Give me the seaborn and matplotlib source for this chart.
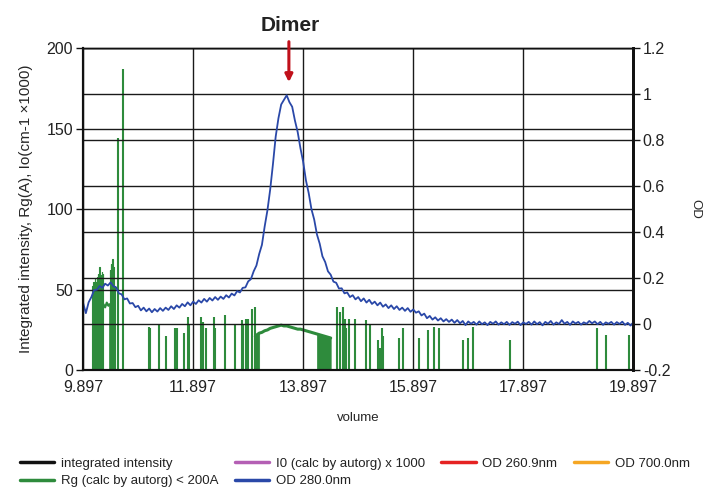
import numpy as np
import pandas as pd
import matplotlib
matplotlib.use("Agg")
import matplotlib.pyplot as plt
import seaborn as sns
from matplotlib.lines import Line2D

#%% data

# OD 280.0nm trace, sampled every 0.05 volume units from 9.90 to 19.90
od_start, od_stop = 9.90, 19.90
od280 = [0.092, 0.048, 0.095, 0.118, 0.148, 0.150, 0.166, 0.158, 0.176, 0.168,
         0.182, 0.165, 0.160, 0.134, 0.130, 0.108, 0.112, 0.090, 0.092, 0.074,
         0.080, 0.060, 0.072, 0.056, 0.068, 0.052, 0.066, 0.055, 0.070, 0.058,
         0.072, 0.062, 0.078, 0.066, 0.082, 0.072, 0.088, 0.078, 0.095, 0.082,
         0.098, 0.088, 0.104, 0.094, 0.110, 0.098, 0.114, 0.103, 0.118, 0.106,
         0.120, 0.110, 0.126, 0.116, 0.133, 0.125, 0.144, 0.138, 0.158, 0.160,
         0.186, 0.196, 0.230, 0.255, 0.305, 0.345, 0.425, 0.495, 0.585, 0.695,
         0.815, 0.895, 0.955, 0.975, 0.995, 0.965, 0.945, 0.885, 0.835, 0.765,
         0.705, 0.625, 0.570, 0.500, 0.455, 0.390, 0.350, 0.295, 0.270, 0.230,
         0.215, 0.185, 0.180, 0.155, 0.156, 0.134, 0.138, 0.118, 0.126, 0.108,
         0.118, 0.100, 0.112, 0.094, 0.106, 0.088, 0.098, 0.082, 0.094, 0.076,
         0.086, 0.070, 0.082, 0.066, 0.078, 0.062, 0.072, 0.058, 0.070, 0.054,
         0.064, 0.050, 0.056, 0.038, 0.046, 0.026, 0.036, 0.020, 0.030, 0.016,
         0.026, 0.012, 0.022, 0.010, 0.020, 0.006, 0.018, 0.004, 0.014, -0.004,
         0.012, 0.002, 0.010, -0.002, 0.012, 0.000, 0.008, -0.004, 0.010, 0.002,
         0.012, -0.002, 0.008, 0.000, 0.010, -0.003, 0.009, 0.002, 0.011, -0.004,
         0.008, 0.001, 0.010, -0.002, 0.012, 0.000, 0.009, -0.005, 0.010, 0.002,
         0.014, -0.002, 0.008, 0.001, 0.018, 0.002, 0.010, -0.003, 0.012, 0.003,
         0.010, -0.002, 0.008, 0.002, 0.014, 0.004, 0.012, 0.000, 0.010, -0.003,
         0.008, 0.002, 0.010, -0.002, 0.009, 0.001, 0.011, -0.003, 0.006, -0.006,
         0.008]

# Rg (calc by autorg) < 200A : isolated spikes
rg_spike_vol = [10.54, 10.62, 11.10, 11.12, 11.28, 11.40, 11.57, 11.60, 11.74, 11.81,
                11.83, 12.05, 12.08, 12.14, 12.27, 12.29, 12.48, 12.66, 12.78, 12.80,
                12.86, 12.88, 12.90, 12.97, 13.02, 14.51, 14.57, 14.62, 14.66, 14.68,
                14.74, 14.85, 15.04, 15.11, 15.26, 15.29, 15.33, 15.35, 15.65, 15.72,
                16.00, 16.16, 16.28, 16.36, 16.80, 16.90, 16.98, 17.66, 19.24, 19.40,
                19.82]
rg_spike_val = [144, 187, 27, 26, 29, 21, 26, 26, 23, 33,
                29, 33, 30, 26, 33, 26, 34, 29, 31, 28,
                32, 30, 32, 38, 39, 39, 36, 39, 32, 26,
                32, 32, 31, 28, 19, 14, 26, 21, 20, 26,
                20, 25, 27, 26, 19, 20, 27, 19, 26, 22,
                22]

# Rg dense bands near the void (top of the band)
band1_vol = [10.06, 10.07, 10.08, 10.09, 10.10, 10.11, 10.12, 10.13, 10.14, 10.15,
             10.16, 10.17, 10.18, 10.19, 10.20, 10.21, 10.22, 10.23, 10.24, 10.25,
             10.26, 10.27]
band1_top = [46, 52, 50, 55, 51, 53, 57, 52, 55, 58, 54, 60, 56, 53, 64, 57, 59, 55,
             61, 57, 60, 54]
hole_vol = [10.27, 10.30, 10.33, 10.36, 10.38]
hole_val = [41, 39, 42, 40, 41]
band2_vol = [10.38, 10.39, 10.40, 10.41, 10.42, 10.43, 10.44, 10.45, 10.46, 10.47,
             10.48]
band2_top = [57, 62, 58, 66, 60, 69, 63, 64, 57, 52, 46]

# Rg continuous hump under the dimer peak
hump_vol = [13.03, 13.06, 13.10, 13.15, 13.20, 13.25, 13.30, 13.35, 13.40, 13.45,
            13.50, 13.55, 13.60, 13.65, 13.70, 13.75, 13.80, 13.85, 13.90, 13.95,
            14.00, 14.05, 14.10, 14.15, 14.20, 14.25, 14.30, 14.35, 14.40]
hump_val = [21, 22, 23, 23.5, 24.5, 25, 26, 26.5, 27, 27.5,
            28, 27.5, 27.5, 27, 26.5, 26, 25.5, 25.5, 25, 24.5,
            24, 23.5, 23, 22.5, 22, 21.5, 21, 20.5, 20]

xticks = [9.897, 11.897, 13.897, 15.897, 17.897, 19.897]
left_ticks = [0, 50, 100, 150, 200]
right_ticks = [-0.2, 0, 0.2, 0.4, 0.6, 0.8, 1, 1.2]

legend_labels = ['integrated intensity', 'Rg (calc by autorg) < 200A',
                 'I0 (calc by autorg) x 1000', 'OD 280.0nm',
                 'OD 260.9nm', 'OD 700.0nm']
legend_colors = ['#111111', '#2e8b3c', '#b45fb4', '#2a48a8', '#e52222', '#f5a623']

green = '#2e8b3c'
blue = '#2a48a8'

#%% plot

sns.set_theme(style='white')
plt.rcParams['font.family'] = ['Liberation Sans', 'DejaVu Sans']
plt.rcParams['text.color'] = '#222222'

df_od = pd.DataFrame({'volume': np.linspace(od_start, od_stop, len(od280)), 'od': od280})

fig = plt.figure(figsize=(7.09, 4.91), dpi=100)
ax = fig.add_axes([0.117, 0.246, 0.776, 0.656])

# green Rg series
ax.fill_between(band1_vol, 0, band1_top, color=green, lw=0.8, step='mid')
ax.fill_between(band2_vol, 0, band2_top, color=green, lw=0.8, step='mid')
sns.lineplot(x=hole_vol, y=hole_val, ax=ax, color=green, lw=1.5)
ax.vlines([10.27, 10.38], 0, [41, 41], color=green, lw=1.2)
ax.vlines(rg_spike_vol, 0, rg_spike_val, color=green, lw=1.5)
sns.lineplot(x=hump_vol, y=hump_val, ax=ax, color=green, lw=2.2)
ax.fill_between(hump_vol[:3], 0, hump_val[:3], color=green, lw=0.5)
ax.fill_between(hump_vol[-6:], 0, hump_val[-6:], color=green, lw=0.5)

ax.set_xlim(xticks[0], xticks[-1])
ax.set_ylim(0, 200)
ax.set_xticks(xticks)
ax.set_xticklabels([f'{t:.3f}' for t in xticks])
ax.set_yticks(left_ticks)
ax.set_xlabel('volume', fontsize=9.5, labelpad=12)
ax.set_ylabel('Integrated intensity, Rg(A), Io(cm-1 ×1000)', fontsize=11, labelpad=10)

# blue OD trace on the right axis
ax2 = ax.twinx()
sns.lineplot(data=df_od, x='volume', y='od', ax=ax2, color=blue, lw=1.3)
ax2.set_ylim(-0.2, 1.2)
ax2.set_yticks(right_ticks)
ax2.set_yticklabels(['-0.2', '0', '0.2', '0.4', '0.6', '0.8', '1', '1.2'])
ax2.set_ylabel('OD', fontsize=9.5, rotation=270, labelpad=22)
ax2.set_xlabel('')

# grid lines from both axes, black
ax.grid(True, axis='both', color='#1a1a1a', lw=1)
ax.set_axisbelow(False)
for y in right_ticks:
    ax2.axhline(y, color='#1a1a1a', lw=1, zorder=0)

for a in (ax, ax2):
    a.tick_params(axis='both', direction='out', length=5, width=1, color='#111111',
                  labelsize=11.5, labelcolor='#222222', pad=2)
    for s in a.spines.values():
        s.set_color('#111111')
    a.spines['left'].set_linewidth(1.5)
    a.spines['bottom'].set_linewidth(1.5)
    a.spines['right'].set_linewidth(2)
    a.spines['top'].set_linewidth(1)

# Dimer annotation
ax2.annotate('', xy=(13.64, 1.04), xytext=(13.64, 1.24),
             arrowprops=dict(arrowstyle='-|>', color='#c0101a', lw=2.2, mutation_scale=11),
             annotation_clip=False)
fig.text(0.409, 0.948, 'Dimer', fontsize=15, fontweight='bold', ha='center', va='center',
         color='#222222')

# legend
handles = [Line2D([], [], color=c, lw=2.5) for c in legend_colors]
fig.legend(handles, legend_labels, loc='upper left', bbox_to_anchor=(0.028, 0.068),
           ncol=4, frameon=False, fontsize=9.5, handlelength=2.6, handletextpad=0.5,
           columnspacing=1.25, labelspacing=0.4, borderaxespad=0, borderpad=0)

plt.savefig('out.png', dpi=100)
